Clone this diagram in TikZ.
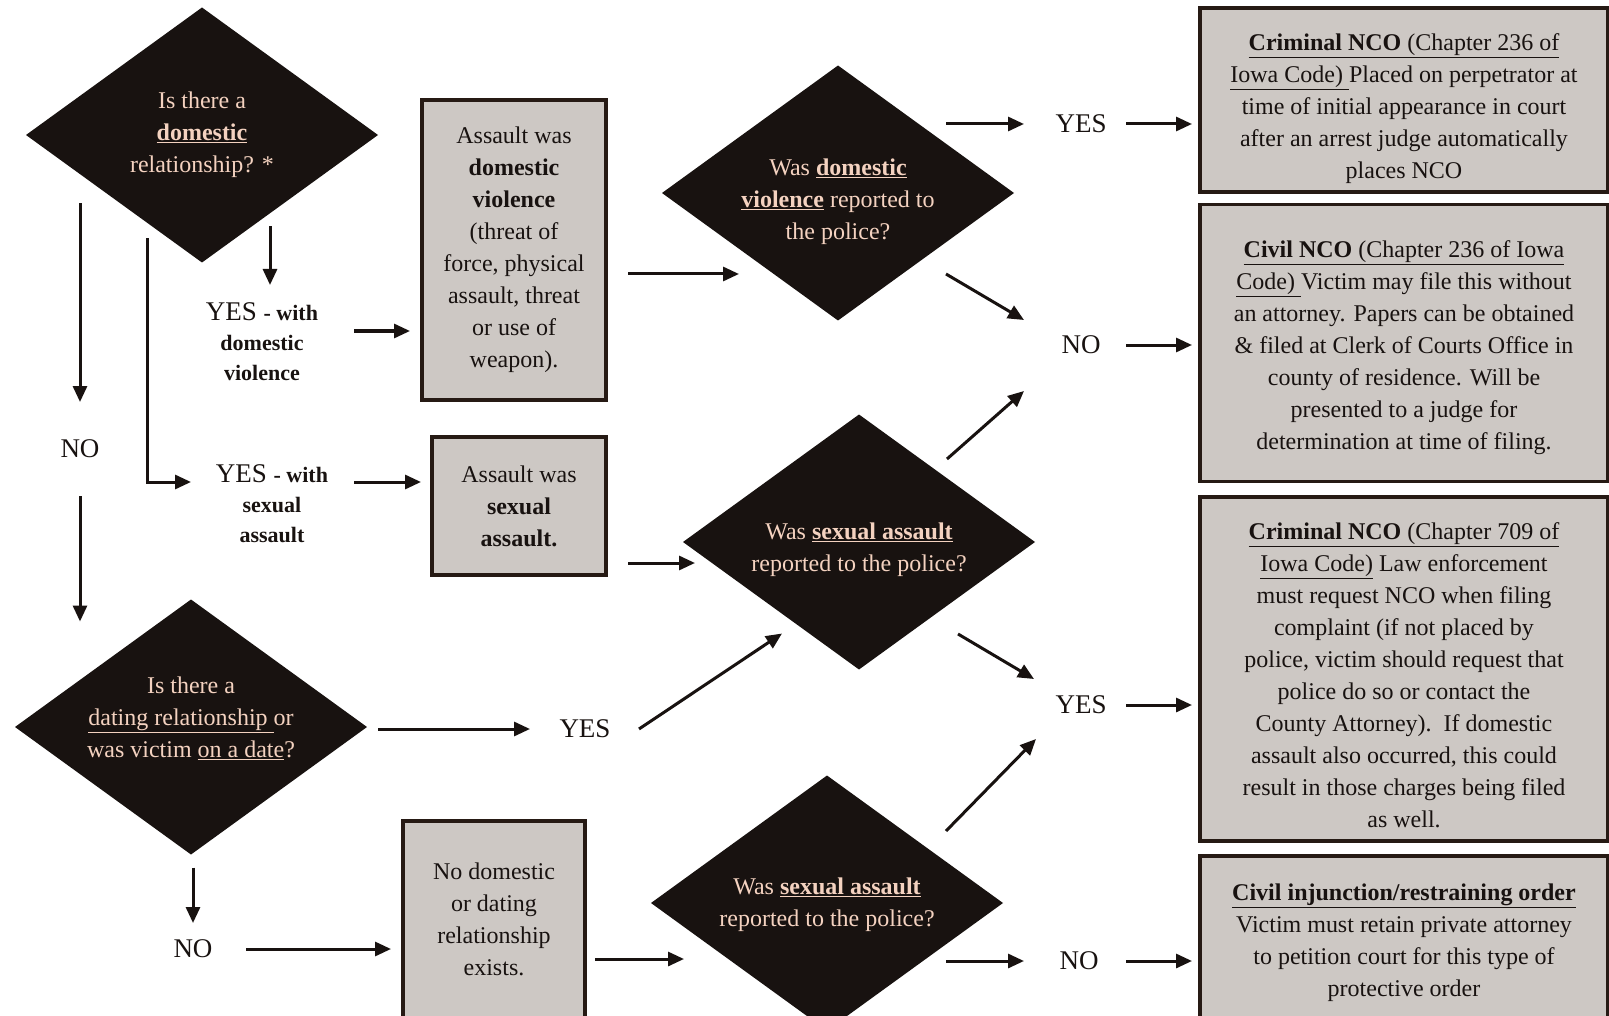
\documentclass[tikz,border=0pt]{standalone}
\usepackage{fontspec}
\setmainfont{Liberation Serif}
\usepackage{xcolor}
\usetikzlibrary{calc,shapes.geometric,arrows.meta}
\definecolor{ink}{RGB}{24,18,16}
\definecolor{rim}{RGB}{38,26,20}
\definecolor{paper}{RGB}{205,200,196}
\definecolor{peach}{RGB}{244,210,192}
\newcommand{\bodyfont}{\fontsize{24}{32}\selectfont}
\newcommand{\tagfont}{\fontsize{27}{30}\selectfont}
\newcommand{\smallbold}[1]{{\fontsize{22}{30}\selectfont\bfseries #1}}
\newcommand{\uln}[1]{\underline{#1}}

\tikzset{
  decision/.style={diamond, fill=ink, draw=none, inner sep=0pt, outer sep=0pt,
    minimum width=352pt, minimum height=255pt},
  question/.style={text=peach, font=\bodyfont, align=center, inner sep=0pt},
  greybox/.style={rectangle, fill=paper, draw=rim, line width=3.8pt, inner sep=0pt,
    outer sep=0pt, align=center, font=\bodyfont, text=ink},
  outcome/.style={greybox, minimum width=408pt},
  boxtext/.style={font=\bodyfont, text=ink, align=center, inner sep=0pt},
  answer/.style={font=\tagfont, text=ink, inner sep=0pt, align=center},
  flow/.style={draw=ink, line width=3pt, -{Triangle[length=16pt,width=14pt]}},
}

\begin{document}
\begin{tikzpicture}[x=1pt, y=-1pt]
\useasboundingbox (0,0) rectangle (1609,1016);
\clip (0,0) rectangle (1609,1016);
\fill[white] (0,0) rectangle (1609,1016);

\node[decision] (d1) at (202,135) {};
\node[question] (d1t) at (d1) {Is there a\\ \uln{\textbf{domestic}}\\ relationship? *};
\node[decision] (d2) at (838,193) {};
\node[question] (d2t) at ($(d2)+(0,9)$) {Was \uln{\textbf{domestic}}\\ \uln{\textbf{violence}} reported to\\ the police?};
\node[decision] (d3) at (859,542) {};
\node[question] (d3t) at ($(d3)+(0,8)$) {Was \uln{\textbf{sexual assault}}\\ reported to the police?};
\node[decision] (d4) at (191,727) {};
\node[question] (d4t) at ($(d4)+(0,-9)$) {Is there a\\ \uln{dating relationship\ }or\\ was victim \uln{on a date}?};
\node[decision] (d5) at (827,903) {};
\node[question] (d5t) at ($(d5)+(0,2)$) {Was \uln{\textbf{sexual assault}}\\ reported to the police?};

\node[greybox, minimum width=184pt, minimum height=300pt] (boxA) at (514,250)
  {Assault was\\ \textbf{domestic}\\ \textbf{violence}\\ (threat of\\ force, physical\\ assault, threat\\ or use of\\ weapon).};
\node[greybox, minimum width=174pt, minimum height=138pt] (boxB) at (519,506)
  {Assault was\\ \textbf{sexual}\\ \textbf{assault.}};
\node[greybox, minimum width=182pt, minimum height=210pt] (boxC) at (494,926) {};
\node[boxtext] (boxCt) at ($(boxC)+(0,-7)$) {No domestic\\ or dating\\ relationship\\ exists.};

\node[outcome, minimum height=184pt] (r1) at (1404,100) {};
\node[boxtext] (r1t) at ($(r1)+(0,9)$)
  {\uln{\textbf{Criminal NCO} (Chapter 236 of}\\ \uln{Iowa Code)\ }Placed on perpetrator at\\ time of initial appearance in court\\ after an arrest judge automatically\\ places NCO};
\node[outcome, minimum height=277pt] (r2) at (1404,343) {};
\node[boxtext] (r2t) at ($(r2)+(0,5)$)
  {\uln{\textbf{Civil NCO} (Chapter 236 of Iowa}\\ \uln{Code)\ }Victim may file this without\\ an attorney. Papers can be obtained\\ \& filed at Clerk of Courts Office in\\ county of residence. Will be\\ presented to a judge for\\ determination at time of filing.};
\node[outcome, minimum height=344pt] (r3) at (1404,669) {};
\node[boxtext] (r3t) at ($(r3)+(0,6)$)
  {\uln{\textbf{Criminal NCO} (Chapter 709 of}\\ \uln{Iowa Code)} Law enforcement\\ must request NCO when filing\\ complaint (if not placed by\\ police, victim should request that\\ police do so or contact the\\ County Attorney).\ \ If domestic\\ assault also occurred, this could\\ result in those charges being filed\\ as well.};
\node[outcome, minimum height=174pt] (r4) at (1404,943) {};
\node[boxtext] (r4t) at (r4)
  {\uln{\textbf{Civil injunction/restraining order}}\\ Victim must retain private attorney\\ to petition court for this type of\\ protective order};

\node[answer] (yesdv) at (262,342) {YES \smallbold{- with}\\ \smallbold{domestic}\\ \smallbold{violence}};
\node[answer] (yessa) at (272,504) {YES \smallbold{- with}\\ \smallbold{sexual}\\ \smallbold{assault}};
\node[answer] (no1) at (80,449) {NO};
\node[answer] (yes2) at (585,729) {YES};
\node[answer] (no2) at (193,949) {NO};
\node[answer] (yes3) at (1081,124) {YES};
\node[answer] (no3) at (1081,345) {NO};
\node[answer] (yes4) at (1081,705) {YES};
\node[answer] (no4) at (1079,961) {NO};

\draw[flow] ($(d1.south)+(-122,-59)$) -- ($(no1)+(0,-47)$);
\draw[flow] ($(no1)+(0,47)$) -- ($(d4.north)+(-111,22)$);
\draw[flow] ($(d1.south)+(-55,-24)$) |- ($(yessa)+(-81,-22)$);
\draw[flow] ($(d1.south)+(68,-36)$) -- ($(yesdv)+(8,-57)$);
\draw[flow] ($(yesdv)+(92,-11)$) -- ($(boxA.west)+(-12,81)$);
\draw[flow] ($(yessa)+(82,-22)$) -- ($(boxB.west)+(-11,-24)$);
\draw[flow] ($(boxA.east)+(22,24)$) -- ($(d2.west)+(77,81)$);
\draw[flow] ($(boxB.east)+(22,57)$) -- ($(d3.west)+(12,21)$);
\draw[flow] ($(d2.east)+(-68,-69)$) -- ($(yes3)+(-57,0)$);
\draw[flow] ($(d2.east)+(-68,81)$) -- ($(no3)+(-57,-25)$);
\draw[flow] ($(d3.east)+(-88,-83)$) -- ($(no3)+(-57,46)$);
\draw[flow] ($(d3.east)+(-77,92)$) -- ($(yes4)+(-47,-26)$);
\draw[flow] ($(d5.east)+(-57,-72)$) -- ($(yes4)+(-45,34)$);
\draw[flow] ($(d5.east)+(-57,58)$) -- ($(no4)+(-55,0)$);
\draw[flow] ($(yes3)+(45,0)$) -- ($(r1.west)+(-8,24)$);
\draw[flow] ($(no3)+(45,0)$) -- ($(r2.west)+(-8,2)$);
\draw[flow] ($(yes4)+(45,0)$) -- ($(r3.west)+(-8,36)$);
\draw[flow] ($(no4)+(47,0)$) -- ($(r4.west)+(-8,18)$);
\draw[flow] ($(d4.east)+(11,2)$) -- ($(yes2)+(-55,0)$);
\draw[flow] ($(yes2)+(54,0)$) -- ($(d3.south)+(-77,-36)$);
\draw[flow] ($(d4.south)+(2,13)$) -- ($(no2)+(0,-26)$);
\draw[flow] ($(no2)+(53,0)$) -- ($(boxC.west)+(-12,23)$);
\draw[flow] ($(boxC.east)+(10,33)$) -- ($(d5.west)+(33,56)$);
\end{tikzpicture}
\end{document}
